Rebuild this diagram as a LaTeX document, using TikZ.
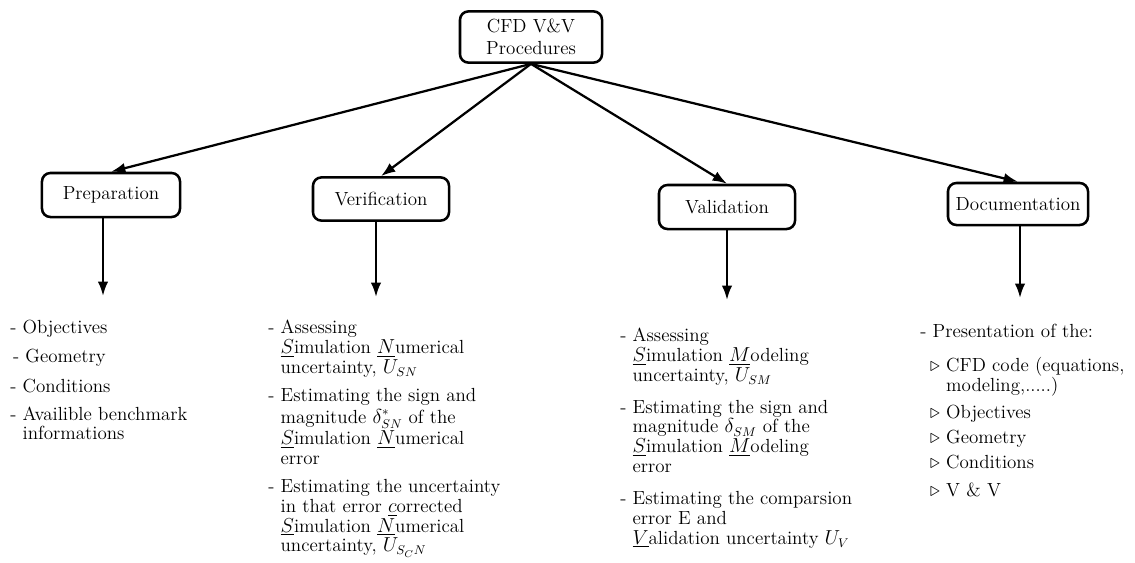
\documentclass[tikz,border=0pt]{standalone}
\usepackage{amsmath}
\usepackage{amssymb}
\usetikzlibrary{shapes,arrows,arrows.meta,positioning}

\newcommand{\listfont}[1]{\fontsize{13.5pt}{#1}\selectfont\lineskiplimit=-20pt\relax}

\begin{document}
\begin{tikzpicture}[x=0.025cm, y=-0.025cm, font=\fontsize{13.5pt}{15.5pt}\selectfont]
  \tikzstyle{stage}=[rectangle, rounded corners=6pt, draw=black, line width=1.8pt, minimum width=3.45cm, minimum height=1.1cm, align=center]
  \tikzstyle{items}=[anchor=north west, inner sep=0pt, align=left, font=\listfont{13.8pt}]
  \tikzstyle{link}=[-{Latex[length=3.6mm, width=2.6mm]}, line width=1.6pt]

  \useasboundingbox (0,0) rectangle (1135,562);

  % Main node
  \node[stage, minimum width=3.55cm, minimum height=1.28cm] (top) at (531,37) {CFD V\&V\\Procedures};

  % The four stages
  \node[stage] (prep) at (111,195) {Preparation};
  \node[stage, minimum width=3.4cm, minimum height=1.08cm] (verif) at (381,199) {Verification};
  \node[stage, minimum width=3.4cm] (valid) at (727,207) {Validation};
  \node[stage, minimum width=3.5cm, minimum height=1.05cm] (doc) at (1018,204) {Documentation};

  \draw[link] (top.south) -- (prep.north);
  \draw[link] (top.south) -- (verif.north);
  \draw[link] (top.south) -- (valid.north);
  \draw[link] (top.south) -- (doc.north);

  % Ends of the vertical arrows
  \coordinate (prepend) at (103,296);
  \coordinate (verifend) at (376,297);
  \coordinate (validend) at (727,300);
  \coordinate (docend) at (1020,298);

  \draw[link] (prepend |- prep.south) -- (prepend);
  \draw[link] (verifend |- verif.south) -- (verifend);
  \draw[link] (validend |- valid.south) -- (validend);
  \draw[link] (docend |- doc.south) -- (docend);

  % Lists under each stage
  \node[items] (preplist) at (10,320) {- Objectives\\[7pt]
    \hspace*{2pt}- Geometry\\[7pt]
    - Conditions\\[6pt]
    - Availible benchmark\\
    \hphantom{- }informations};

  \node[items, font=\listfont{14pt}] (veriflist) at (268,320) {- Assessing\\
    \hphantom{- }$\underline{S}$imulation $\underline{N}$umerical\\
    \hphantom{- }uncertainty, $U_{SN}$\\[6pt]
    - Estimating the sign and\\[1.5pt]
    \hphantom{- }magnitude $\delta^*_{SN}$ of the\\[1.5pt]
    \hphantom{- }$\underline{S}$imulation $\underline{N}$umerical\\
    \hphantom{- }error\\[6pt]
    - Estimating the uncertainty\\
    \hphantom{- }in that error $\underline{c}$orrected\\
    \hphantom{- }$\underline{S}$imulation $\underline{N}$umerical\\
    \hphantom{- }uncertainty, $U_{S_CN}$};

  \node[items, font=\listfont{14.2pt}] (validlist) at (620,328) {- Assessing\\
    \hphantom{- }$\underline{S}$imulation $\underline{M}$odeling\\
    \hphantom{- }uncertainty, $U_{SM}$\\[8pt]
    - Estimating the sign and\\
    \hphantom{- }magnitude $\delta_{SM}$ of the\\
    \hphantom{- }$\underline{S}$imulation $\underline{M}$odeling\\
    \hphantom{- }error\\[8pt]
    - Estimating the comparsion\\
    \hphantom{- }error E and\\
    \hphantom{- }$\underline{V}$alidation uncertainty $U_V$};

  \node[items] (doclist) at (920,324) {- Presentation of the:\\[10pt]
    \hspace*{7pt}$\triangleright$ CFD code (equations,\\[1pt]
    \hspace*{7pt}\hphantom{$\triangleright$ }modeling,.....)\\[5pt]
    \hspace*{7pt}$\triangleright$ Objectives\\[4pt]
    \hspace*{7pt}$\triangleright$ Geometry\\[4pt]
    \hspace*{7pt}$\triangleright$ Conditions\\[6pt]
    \hspace*{7pt}$\triangleright$ V \& V};
\end{tikzpicture}
\end{document}
